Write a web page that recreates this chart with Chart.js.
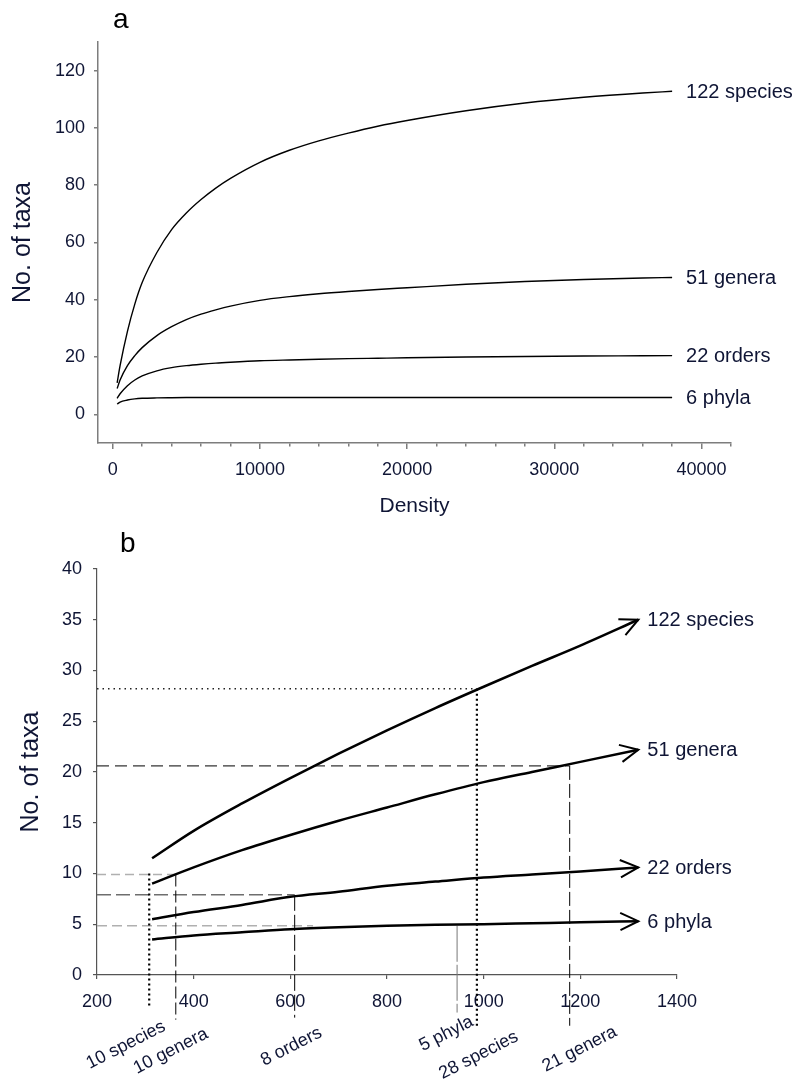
<!DOCTYPE html>
<html>
<head>
<meta charset="utf-8">
<script src="https://cdn.jsdelivr.net/npm/chart.js@4.4.1/dist/chart.umd.min.js"></script>
<style>
  html, body { margin: 0; padding: 0; background: #fff; }
  #wrap { position: relative; width: 798px; height: 1086px; }
  canvas { position: absolute; left: 0; }
  #chartA { top: 0; }
  #chartB { top: 530px; }
</style>
</head>
<body>
<div id="wrap">
  <canvas id="chartA" width="798" height="530"></canvas>
  <canvas id="chartB" width="798" height="556"></canvas>
</div>
<script>
// Panel a : taxa vs density
const densityA = [300, 500, 1000, 1500, 2000, 3000, 4000, 5000, 6000, 7000, 8000, 10000, 12000, 14000, 16000, 18000, 20000, 24000, 28000, 32000, 36000, 38000];
const speciesA = [11, 17, 29, 38.5, 46, 56.5, 64.5, 70.3, 75, 79, 82.4, 88, 92.2, 95.5, 98.2, 100.6, 102.6, 106, 108.7, 110.7, 112.2, 112.8];
const generaA = [9, 12, 17, 20.5, 23.3, 27.5, 30.6, 33.1, 35, 36.5, 37.8, 39.8, 41.1, 42.1, 42.9, 43.6, 44.2, 45.4, 46.4, 47.1, 47.6, 47.8];
const ordersA = [5.6, 7.2, 10, 12, 13.4, 15.2, 16.3, 17, 17.5, 17.9, 18.2, 18.7, 19, 19.25, 19.45, 19.6, 19.75, 20, 20.2, 20.35, 20.45, 20.5];
const phylaA = [3.6, 4.3, 5.0, 5.4, 5.6, 5.75, 5.82, 5.87, 5.9, 5.9, 5.9, 5.9, 5.9, 5.9, 5.9, 5.9, 5.9, 5.9, 5.9, 5.9, 5.9, 5.9];
const xTicksA = [0, 2000, 4000, 6000, 8000, 10000, 12000, 14000, 16000, 18000, 20000, 22000, 24000, 26000, 28000, 30000, 32000, 34000, 36000, 38000, 40000, 42000];
const xLabelsA = [0, 10000, 20000, 30000, 40000];
const yTicksA = [0, 20, 40, 60, 80, 100, 120];

// Panel b : taxa vs density (low end)
const densityB = [314, 400, 500, 600, 700, 800, 900, 1000, 1100, 1200, 1320];
const speciesB = [11.5, 14.2, 16.9, 19.4, 21.8, 24.1, 26.3, 28.4, 30.45, 32.45, 35];
const generaB = [9, 10.6, 12.3, 13.8, 15.2, 16.5, 17.8, 19, 20, 21, 22.2];
const ordersB = [5.5, 6.2, 6.9, 7.7, 8.2, 8.8, 9.2, 9.6, 9.9, 10.2, 10.6];
const phylaB = [3.5, 3.9, 4.2, 4.5, 4.7, 4.85, 4.95, 5.0, 5.1, 5.2, 5.3];
const xTicksB = [200, 400, 600, 800, 1000, 1200, 1400];
const yTicksB = [0, 5, 10, 15, 20, 25, 30, 35, 40];

const seriesNames = ['122 species', '51 genera', '22 orders', '6 phyla'];

// read-off guides in panel b
const cutDensity = [308, 363, 609, 945, 986, 1178];
const cutTaxa = [10, 9.9, 7.9, 4.85, 28.2, 20.6];
const cutGuideEnd = [null, 363, 609, 647, 986, 1178];
const cutBottom = [-3.2, -4.4, -4.2, -3.7, -5, -5];
const cutLabels = ['10 species', '10 genera', '8 orders', '5 phyla', '28 species', '21 genera'];

// styles
const FONT = "'Liberation Sans', Arial, sans-serif";
const TEXT = '#0f1535';
const hStyles = [
    null,
    { color: '#b0b0b0', width: 1.5, dash: [9, 5] },
    { color: '#6e6e6e', width: 1.5, dash: [14, 5] },
    { color: '#b0b0b0', width: 1.5, dash: [10, 5] },
    { color: '#222', width: 1.6, dash: [1.5, 4] },
    { color: '#000', width: 1, dash: [12, 6] }
];
const vStyles = [
    { color: '#000', width: 2.2, dash: [2, 3] },
    { color: '#000', width: 1, dash: [12, 4] },
    { color: '#000', width: 1, dash: [16, 4] },
    { color: '#777', width: 1, dash: [36, 3] },
    { color: '#000', width: 2.2, dash: [2, 3] },
    { color: '#000', width: 1, dash: [14, 4] }
];
const cutLabelShift = [[11, 10], [27, 5], [22, 6], [11, 0], [36, 2], [42, -3]];

Chart.defaults.font.family = FONT;
Chart.defaults.color = TEXT;

function curve(xs, ys, width, name) {
    return {
        data: xs.map((x, i) => ({ x: x, y: ys[i] })),
        borderColor: '#000',
        borderWidth: width,
        pointRadius: 0,
        cubicInterpolationMode: 'monotone',
        endLabel: name,
        order: 1
    };
}

function guide(points, style) {
    return {
        data: points,
        borderColor: style.color,
        borderWidth: style.width,
        borderDash: style.dash,
        pointRadius: 0,
        tension: 0,
        clip: false,
        order: 2
    };
}

// Etiquettes en bout de courbe, fleches, lettre du panneau
const curveLabels = {
    id: 'curveLabels',
    afterDatasetsDraw(chart, args, opts) {
        const ctx = chart.ctx;
        ctx.save();
        chart.data.datasets.forEach((ds, i) => {
            if (!ds.endLabel) return;
            const pts = chart.getDatasetMeta(i).data;
            const last = pts[pts.length - 1];
            const prev = pts[pts.length - 2];
            if (opts.arrows) {
                const a = Math.atan2(last.y - prev.y, last.x - prev.x);
                ctx.strokeStyle = '#000';
                ctx.lineWidth = 2;
                ctx.setLineDash([]);
                ctx.beginPath();
                ctx.moveTo(last.x + 20 * Math.cos(a + Math.PI - 0.45), last.y + 20 * Math.sin(a + Math.PI - 0.45));
                ctx.lineTo(last.x, last.y);
                ctx.lineTo(last.x + 20 * Math.cos(a + Math.PI + 0.45), last.y + 20 * Math.sin(a + Math.PI + 0.45));
                ctx.stroke();
            }
            ctx.font = '20px ' + FONT;
            ctx.fillStyle = TEXT;
            ctx.textAlign = 'left';
            ctx.textBaseline = 'middle';
            ctx.fillText(ds.endLabel, last.x + opts.gap, last.y + 1);
        });

        if (opts.cuts) {
            const xs = chart.scales.x, ys = chart.scales.y;
            ctx.font = '18px ' + FONT;
            ctx.fillStyle = TEXT;
            ctx.textAlign = 'right';
            ctx.textBaseline = 'top';
            cutLabels.forEach((txt, i) => {
                const px = xs.getPixelForValue(cutDensity[i]) + cutLabelShift[i][0];
                const py = ys.getPixelForValue(cutBottom[i]) + cutLabelShift[i][1];
                ctx.save();
                ctx.translate(px, py);
                ctx.rotate(-27 * Math.PI / 180);
                ctx.fillText(txt, 0, 0);
                ctx.restore();
            });
        }

        ctx.font = '28px ' + FONT;
        ctx.fillStyle = '#000';
        ctx.textAlign = 'left';
        ctx.textBaseline = 'alphabetic';
        ctx.fillText(opts.letter, chart.chartArea.left + opts.letterDx, chart.chartArea.top + opts.letterDy);
        ctx.restore();
    }
};

// ---- Panel a ----
const grayA = '#7d7d7d';
new Chart(document.getElementById('chartA'), {
    type: 'line',
    data: {
        datasets: [
            curve(densityA, speciesA, 1.4, seriesNames[0]),
            curve(densityA, generaA, 1.4, seriesNames[1]),
            curve(densityA, ordersA, 1.4, seriesNames[2]),
            curve(densityA, phylaA, 1.4, seriesNames[3])
        ]
    },
    options: {
        responsive: false,
        animation: false,
        devicePixelRatio: 1,
        layout: { padding: { left: 0, top: 42, right: 67, bottom: 0 } },
        plugins: {
            legend: { display: false },
            tooltip: { enabled: false },
            curveLabels: { gap: 14, letter: 'a', letterDx: 15, letterDy: -14 }
        },
        scales: {
            x: {
                type: 'linear',
                min: -1000,
                max: 42000,
                afterBuildTicks: s => { s.ticks = xTicksA.map(v => ({ value: v })); },
                afterFit: s => { s.height = 87; },
                ticks: {
                    callback: v => xLabelsA.includes(v) ? String(v) : '',
                    font: { size: 18 },
                    color: TEXT,
                    padding: 10,
                    maxRotation: 0,
                    minRotation: 0,
                    autoSkip: false
                },
                grid: {
                    drawOnChartArea: false,
                    tickLength: 6,
                    color: grayA,
                    lineWidth: 1.5,
                    tickBorderDash: c => (c.tick && xLabelsA.includes(c.tick.value)) ? [] : [3, 20]
                },
                border: { display: true, color: grayA, width: 1.5 },
                title: { display: true, text: 'Density', font: { size: 21 }, color: TEXT, padding: { top: 0, bottom: 11 } }
            },
            y: {
                type: 'linear',
                min: -10,
                max: 130,
                afterBuildTicks: s => { s.ticks = yTicksA.map(v => ({ value: v })); },
                afterFit: s => { s.width = 98; },
                ticks: { callback: v => String(v), font: { size: 18 }, color: TEXT, padding: 9 },
                grid: { drawOnChartArea: false, tickLength: 4, color: grayA, lineWidth: 1.5 },
                border: { display: true, color: grayA, width: 1.5 },
                title: { display: true, text: 'No. of taxa', font: { size: 25 }, color: TEXT, padding: { top: 8, bottom: 0 } }
            }
        }
    },
    plugins: [curveLabels]
});

// ---- Panel b ----
const guidesB = [];
cutDensity.forEach((d, i) => {
    if (cutGuideEnd[i] !== null) {
        guidesB.push(guide([{ x: 200, y: cutTaxa[i] }, { x: cutGuideEnd[i], y: cutTaxa[i] }], hStyles[i]));
    }
    guidesB.push(guide([{ x: d, y: cutTaxa[i] }, { x: d, y: cutBottom[i] }], vStyles[i]));
});

const grayB = '#555';
new Chart(document.getElementById('chartB'), {
    type: 'line',
    data: {
        datasets: [
            curve(densityB, speciesB, 2.5, seriesNames[0]),
            curve(densityB, generaB, 2.5, seriesNames[1]),
            curve(densityB, ordersB, 2.5, seriesNames[2]),
            curve(densityB, phylaB, 2.5, seriesNames[3])
        ].concat(guidesB)
    },
    options: {
        responsive: false,
        animation: false,
        devicePixelRatio: 1,
        layout: { padding: { left: 0, top: 39, right: 121, bottom: 0 } },
        plugins: {
            legend: { display: false },
            tooltip: { enabled: false },
            curveLabels: { gap: 9, arrows: true, cuts: true, letter: 'b', letterDx: 23, letterDy: -17 }
        },
        scales: {
            x: {
                type: 'linear',
                min: 200,
                max: 1400,
                afterBuildTicks: s => { s.ticks = xTicksB.map(v => ({ value: v })); },
                afterFit: s => { s.height = 111; },
                ticks: { callback: v => String(v), font: { size: 18 }, color: TEXT, padding: 12, maxRotation: 0, minRotation: 0, autoSkip: false },
                grid: { drawOnChartArea: false, tickLength: 4, color: grayB, lineWidth: 1.2 },
                border: { display: true, color: grayB, width: 1.2 }
            },
            y: {
                type: 'linear',
                min: 0,
                max: 40,
                afterBuildTicks: s => { s.ticks = yTicksB.map(v => ({ value: v })); },
                afterFit: s => { s.width = 97; },
                ticks: { callback: v => String(v), font: { size: 18 }, color: TEXT, padding: 11 },
                grid: { drawOnChartArea: false, tickLength: 4, color: grayB, lineWidth: 1.2 },
                border: { display: true, color: grayB, width: 1.2 },
                title: { display: true, text: 'No. of taxa', font: { size: 25 }, color: TEXT, padding: { top: 16, bottom: 0 } }
            }
        }
    },
    plugins: [curveLabels]
});
</script>
</body>
</html>
